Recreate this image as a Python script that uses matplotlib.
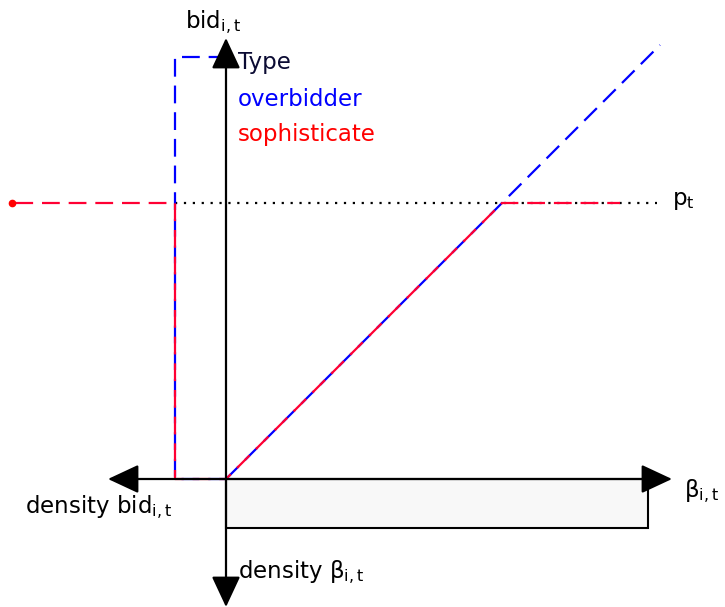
import numpy as np
import matplotlib.pyplot as plt
from matplotlib.patches import Rectangle

plt.rcParams['font.family'] = ['DejaVu Sans']
plt.rcParams['mathtext.default'] = 'regular'

# bid functions (beta on x, bid on y), origin at 0
beta_over = [0, 434]
bid_over = [0, 434]
beta_soph = [0, 276, 394]
bid_soph = [0, 276, 276]
p_t = 276

# density of bids (drawn to the left of the bid axis)
dens_over_x = [0, -51, -51, 0]
dens_over_y = [0, 0, 422, 422]
dens_soph_x = [0, -51, -51, -214]
dens_soph_y = [0, 0, p_t, p_t]

# density of beta (uniform block under the beta axis)
beta_lo, beta_hi = 0, 422
dens_beta = 49

blue = '#0000ff'
red = '#ff0033'

fig = plt.figure(figsize=(7.25, 6.07), dpi=100)
ax = fig.add_axes([0, 0, 1, 1])
ax.set_xlim(-226, 499)
ax.set_ylim(-128, 479)
ax.axis('off')

ax.add_patch(Rectangle((beta_lo, -dens_beta), beta_hi - beta_lo, dens_beta,
                       facecolor='#f8f8f8', edgecolor='black', lw=1.5, zorder=1))

# price line
ax.plot([-51, 431], [p_t, p_t], color='black', ls=(0, (1, 3)), lw=1.6, zorder=2)

# overbidder
ax.plot(beta_over, bid_over, color=blue, ls=(0, (8, 4)), lw=1.6, zorder=3)
ax.plot(dens_over_x, dens_over_y, color=blue, ls=(0, (8, 4)), lw=1.6, zorder=3)
# sophisticate
ax.plot(beta_soph, bid_soph, color=red, ls=(5, (8, 4)), lw=1.6, zorder=4)
ax.plot(dens_soph_x, dens_soph_y, color=red, ls=(5, (8, 4)), lw=1.6, zorder=4)
ax.plot([dens_soph_x[-1]], [dens_soph_y[-1]], 'o', color='#ff0000', ms=4.5, zorder=5)

# axes with arrows
arw = dict(arrowstyle='-|>,head_length=0.6,head_width=0.28', mutation_scale=32,
           color='black', lw=1.6, shrinkA=0, shrinkB=0)
ax.annotate('', xy=(446, 0), xytext=(0, 0), arrowprops=arw, zorder=6)
ax.annotate('', xy=(-118, 0), xytext=(0, 0), arrowprops=arw, zorder=6)
ax.annotate('', xy=(0, 441), xytext=(0, 0), arrowprops=arw, zorder=6)
ax.annotate('', xy=(0, -128), xytext=(0, 0), arrowprops=arw, zorder=6)

fs = 16.5
ax.text(-41, 451, r'bid$_{i,t}$', fontsize=fs, va='baseline')
ax.text(12, 416, 'Type', fontsize=fs, va='center', color='#0b0b33')
ax.text(12, 379, 'overbidder', fontsize=fs, va='center', color=blue)
ax.text(12, 345, 'sophisticate', fontsize=fs, va='center', color='#ff0000')
ax.text(446, 279, r'p$_t$', fontsize=fs, va='center')
ax.text(-201, -34, r'density bid$_{i,t}$', fontsize=fs, va='baseline')
ax.text(458, -18, r'$\beta_{i,t}$', fontsize=fs, va='baseline')
ax.text(12, -99, r'density $\beta_{i,t}$', fontsize=fs, va='baseline')

fig.savefig('out.png', dpi=100)
